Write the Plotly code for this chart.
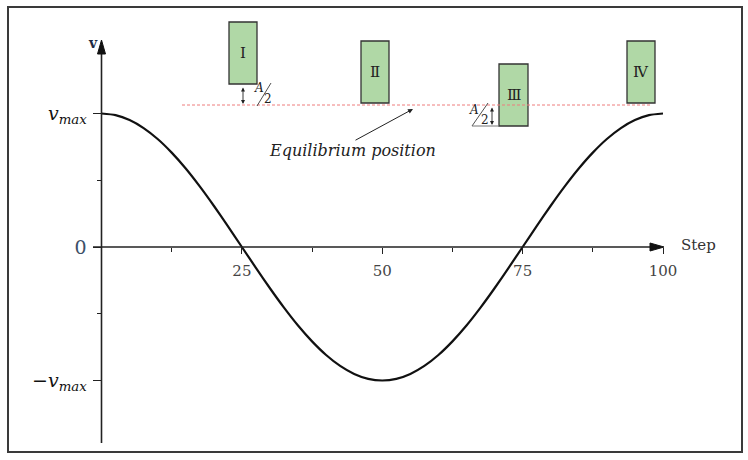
import plotly.graph_objects as go

# ---- data ----
steps = [0, 2.5, 5, 7.5, 10, 12.5, 15, 17.5, 20, 22.5, 25, 27.5, 30, 32.5, 35, 37.5, 40, 42.5, 45, 47.5,
         50, 52.5, 55, 57.5, 60, 62.5, 65, 67.5, 70, 72.5, 75, 77.5, 80, 82.5, 85, 87.5, 90, 92.5, 95,
         97.5, 100]
velocity = [1.0, 0.988, 0.951, 0.891, 0.809, 0.707, 0.588, 0.454, 0.309, 0.156, 0.0,
            -0.156, -0.309, -0.454, -0.588, -0.707, -0.809, -0.891, -0.951, -0.988, -1.0,
            -0.988, -0.951, -0.891, -0.809, -0.707, -0.588, -0.454, -0.309, -0.156, 0.0,
            0.156, 0.309, 0.454, 0.588, 0.707, 0.809, 0.891, 0.951, 0.988, 1.0]
x_tick_vals = [25, 50, 75, 100]
x_tick_text = ["25", "50", "75", "100"]
x_minor_vals = [12.5, 37.5, 62.5, 87.5]
y_tick_vals = [-1, 0, 1]
y_tick_text = ["\u2212<i>v</i><sub><i>max</i></sub>",
               "<span style='color:#3d5068'>0</span>",
               "<i>v</i><sub><i>max</i></sub>"]
y_minor_vals = [-0.5, 0.5]
box_labels = ["I", "Ⅱ", "Ⅲ", "Ⅳ"]

SERIF2 = "DejaVu Serif"
W, H = 748, 460
X0, SX = 101.5, 5.615   # pixel of step 0, px per step
Y0, SY = 247.0, 133.5   # pixel of v=0, px per unit v


def dx(px):
    return (px - X0) / SX


def dy(py):
    return (Y0 - py) / SY


fig = go.Figure()
fig.add_trace(go.Scatter(x=steps, y=velocity, mode="lines",
                         line=dict(color="#111111", width=2.2, shape="spline", smoothing=0.6),
                         hoverinfo="skip", showlegend=False))

shapes = []
annotations = []

# frame
shapes.append(dict(type="rect", xref="paper", yref="paper",
                   x0=8 / W, x1=742 / W, y0=1 - 452 / H, y1=1 - 7 / H,
                   line=dict(color="#3a3a3a", width=2), fillcolor="rgba(0,0,0,0)"))

# axis lines
shapes.append(dict(type="line", xref="x", yref="y", x0=dx(93), x1=dx(652), y0=0, y1=0,
                   line=dict(color="#222222", width=1.6)))
shapes.append(dict(type="line", xref="x", yref="y", x0=0, x1=0, y0=dy(443), y1=dy(50),
                   line=dict(color="#222222", width=1.6)))


def tri(tip, base_c, half, horizontal):
    if horizontal:
        pts = [(tip[0], tip[1]), (base_c[0], base_c[1] - half), (base_c[0], base_c[1] + half)]
    else:
        pts = [(tip[0], tip[1]), (base_c[0] - half, base_c[1]), (base_c[0] + half, base_c[1])]
    p = "M{},{} L{},{} L{},{} Z".format(dx(pts[0][0]), dy(pts[0][1]), dx(pts[1][0]), dy(pts[1][1]),
                                        dx(pts[2][0]), dy(pts[2][1]))
    return dict(type="path", xref="x", yref="y", path=p, fillcolor="#111111",
                line=dict(color="#111111", width=1))


shapes.append(tri((664, 247), (650, 247), 4, True))
shapes.append(tri((101.5, 40), (101.5, 54), 4, False))

# green boxes (pixel extents)
boxes = [(229, 257, 22, 84), (361, 389, 41, 103), (499, 528, 64, 126), (627, 655, 41, 103)]
for (l, r, t, b), lab in zip(boxes, box_labels):
    shapes.append(dict(type="rect", xref="x", yref="y", x0=dx(l), x1=dx(r), y0=dy(b), y1=dy(t),
                       fillcolor="#b0d8a6", line=dict(color="#333333", width=1.3)))
    annotations.append(dict(x=dx((l + r) / 2), y=dy((t + b) / 2), xref="x", yref="y",
                            text=lab, showarrow=False,
                            font=dict(family=SERIF2, size=15, color="#222222")))

# equilibrium line
shapes.append(dict(type="line", xref="x", yref="y", x0=dx(182), x1=dx(651), y0=dy(105), y1=dy(105),
                   line=dict(color="#ee7c7c", width=1, dash="3px,2px")))

# A/2 marks
shapes.append(dict(type="line", xref="x", yref="y", x0=dx(257), x1=dx(271), y0=dy(106), y1=dy(83),
                   line=dict(color="#222222", width=0.8)))
shapes.append(dict(type="line", xref="x", yref="y", x0=dx(472), x1=dx(488), y0=dy(126), y1=dy(103),
                   line=dict(color="#222222", width=0.8)))
shapes.append(dict(type="line", xref="x", yref="y", x0=dx(472), x1=dx(499), y0=dy(126), y1=dy(126),
                   line=dict(color="#777777", width=1)))

for (ax_px, y_top, y_bot) in [(243, 86, 104), (492, 106, 125)]:
    annotations.append(dict(x=dx(ax_px), y=dy(y_bot), ax=dx(ax_px), ay=dy(y_top),
                            xref="x", yref="y", axref="x", ayref="y", text="",
                            showarrow=True, arrowhead=2, startarrowhead=2, arrowside="end+start",
                            arrowsize=0.9, startarrowsize=0.9, arrowwidth=0.9, arrowcolor="#222222"))

for (xa, ya, x2, y2) in [(259, 88, 268, 99), (474, 110, 485, 120)]:
    annotations.append(dict(x=dx(xa), y=dy(ya), xref="x", yref="y", text="<i>A</i>", showarrow=False,
                            font=dict(family=SERIF2, size=12, color="#222222")))
    annotations.append(dict(x=dx(x2), y=dy(y2), xref="x", yref="y", text="2", showarrow=False,
                            font=dict(family=SERIF2, size=12, color="#222222")))

# equilibrium position label + arrow
annotations.append(dict(x=dx(352), y=dy(150), xref="x", yref="y", text="<i>Equilibrium position</i>",
                        showarrow=False,
                        font=dict(family=SERIF2, size=16, color="#222222")))
annotations.append(dict(x=dx(413), y=dy(109), ax=dx(354), ay=dy(141), xref="x", yref="y",
                        axref="x", ayref="y", text="", showarrow=True, arrowhead=2,
                        arrowsize=1, arrowwidth=1, arrowcolor="#222222"))

# axis titles
annotations.append(dict(x=dx(93), y=dy(43), xref="x", yref="y", text="<b>v</b>", showarrow=False,
                        font=dict(family=SERIF2, size=14, color="#1e2b45")))
annotations.append(dict(x=dx(698), y=dy(245), xref="x", yref="y", text="Step", showarrow=False,
                        font=dict(family=SERIF2, size=15, color="#333333")))

fig.update_layout(
    width=W, height=H, autosize=False,
    margin=dict(l=0, r=0, t=0, b=0),
    paper_bgcolor="white", plot_bgcolor="white",
    showlegend=False,
    shapes=shapes, annotations=annotations,
    xaxis=dict(range=[dx(0), dx(W)], domain=[0, 1], anchor="free", position=(H - Y0) / H,
               showgrid=False, zeroline=False, showline=False,
               tickmode="array", tickvals=x_tick_vals, ticktext=x_tick_text,
               ticks="outside", ticklen=6, tickwidth=1.3, tickcolor="#222222",
               ticklabelstandoff=4,
               tickfont=dict(family=SERIF2, size=15, color="#444444"),
               minor=dict(tickmode="array", tickvals=x_minor_vals, ticks="outside", ticklen=4,
                          tickwidth=1.2, tickcolor="#222222", showgrid=False)),
    yaxis=dict(range=[dy(H), dy(0)], domain=[0, 1], anchor="free", position=X0 / W,
               showgrid=False, zeroline=False, showline=False,
               tickmode="array", tickvals=y_tick_vals, ticktext=y_tick_text,
               ticks="outside", ticklen=9, tickwidth=1.3, tickcolor="#222222",
               ticklabelstandoff=2,
               tickfont=dict(family=SERIF2, size=19, color="#111111"),
               minor=dict(tickmode="array", tickvals=y_minor_vals, ticks="outside", ticklen=5,
                          tickwidth=1.2, tickcolor="#222222", showgrid=False)),
)

fig.write_html("out.html")
